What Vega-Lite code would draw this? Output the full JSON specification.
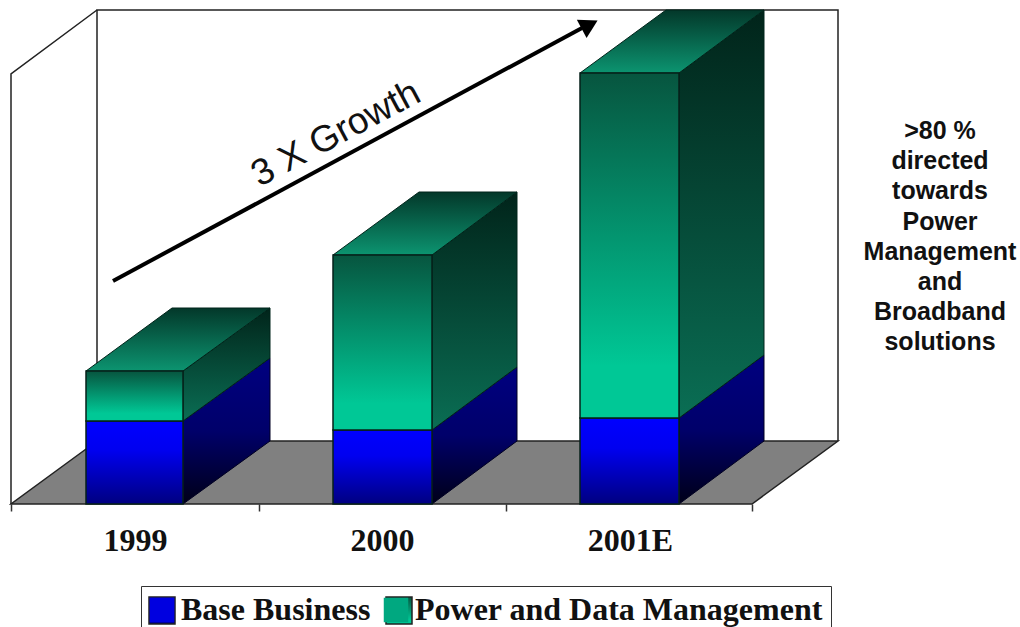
{
"$schema":"https://vega.github.io/schema/vega-lite/v6.json",
"width":1020,"height":504,"autosize":"none","padding":{"left":0,"top":0,"right":0,"bottom":123},
"background":"white",
"datasets":{
"walls":[
{"wall":"back","ord":1,"x":97,"v":63},{"wall":"back","ord":2,"x":97,"v":494},{"wall":"back","ord":3,"x":838,"v":494},{"wall":"back","ord":4,"x":838,"v":63},
{"wall":"left","ord":1,"x":11,"v":0},{"wall":"left","ord":2,"x":11,"v":430},{"wall":"left","ord":3,"x":97,"v":494}],
"floor":[{"v":0,"x":11,"x2":752},{"v":63,"x":97,"x2":838}],
"sides":[
{"year":"1999","series":"Base Business","x":183,"lo":0,"hi":83},{"year":"1999","series":"Base Business","x":270,"lo":63,"hi":146},
{"year":"1999","series":"Power and Data Management","x":183,"lo":83,"hi":133},{"year":"1999","series":"Power and Data Management","x":270,"lo":146,"hi":196},
{"year":"2000","series":"Base Business","x":432,"lo":0,"hi":74},{"year":"2000","series":"Base Business","x":517,"lo":63,"hi":137},
{"year":"2000","series":"Power and Data Management","x":432,"lo":74,"hi":249},{"year":"2000","series":"Power and Data Management","x":517,"lo":137,"hi":312},
{"year":"2001E","series":"Base Business","x":679,"lo":0,"hi":86},{"year":"2001E","series":"Base Business","x":764,"lo":63,"hi":149},
{"year":"2001E","series":"Power and Data Management","x":679,"lo":86,"hi":431},{"year":"2001E","series":"Power and Data Management","x":764,"lo":149,"hi":494}],
"tops":[
{"year":"1999","v":133,"x":86,"x2":183},{"year":"1999","v":196,"x":172,"x2":270},
{"year":"2000","v":249,"x":333,"x2":432},{"year":"2000","v":312,"x":419,"x2":517},
{"year":"2001E","v":431,"x":580,"x2":679},{"year":"2001E","v":494,"x":666,"x2":764}],
"fronts":[
{"year":"1999","series":"Base Business","x":86,"x2":183,"lo":0,"hi":83},
{"year":"1999","series":"Power and Data Management","x":86,"x2":183,"lo":83,"hi":133},
{"year":"2000","series":"Base Business","x":333,"x2":432,"lo":0,"hi":74},
{"year":"2000","series":"Power and Data Management","x":333,"x2":432,"lo":74,"hi":249},
{"year":"2001E","series":"Base Business","x":580,"x2":679,"lo":0,"hi":86},
{"year":"2001E","series":"Power and Data Management","x":580,"x2":679,"lo":86,"hi":431}],
"swatches":[
{"series":"Base Business","x":149,"x2":175,"lo":-120,"hi":-93},
{"series":"Power and Data Management","x":386,"x2":412,"lo":-120,"hi":-93}],
"arrow":[{"x":113,"v":223},{"x":582,"v":476}],
"head":[{"x":587,"v":478}],
"labels":[{"x":336,"v":370,"t":"3 X Growth"}],
"note":[{"x":940,"v":385,"t":">80 %\ndirected\ntowards\nPower\nManagement\nand\nBroadband\nsolutions"}]
},
"layer":[
{"data":{"name":"floor"},
 "mark":{"type":"area","orient":"horizontal","fill":"#808080","stroke":"#222222","strokeWidth":1.5},
 "encoding":{
  "y":{"field":"v","type":"quantitative","stack":null,"scale":{"domain":[0,504],"nice":false},"axis":null},
  "x":{"field":"x","type":"quantitative","scale":{"domain":[0,1020],"nice":false},"title":null,
   "axis":{"values":[11,135,259,382,506,630,752],"grid":false,"domain":false,"title":null,
    "labelExpr":"datum.value==135?'1999':datum.value==382?'2000':datum.value==630?'2001E':''",
    "labelFont":"Liberation Serif","labelFontWeight":"bold","labelFontSize":32,"labelColor":"#111111","labelPadding":21,"labelOverlap":false,"labelFlush":false,
    "tickColor":"#333333","tickWidth":1.5,"tickSize":{"condition":{"test":"datum.value==135||datum.value==382||datum.value==630","value":0},"value":7}}},
  "x2":{"field":"x2"}}},
{"data":{"name":"walls"},
 "mark":{"type":"line","color":"#222222","strokeWidth":1.5},
 "encoding":{
  "x":{"field":"x","type":"quantitative","title":null},
  "y":{"field":"v","type":"quantitative","axis":null},
  "detail":{"field":"wall"},"order":{"field":"ord"}}},
{"data":{"name":"sides"},"transform":[{"filter":"datum.series=='Base Business'"}],
 "mark":{"type":"area","stroke":"#000022","strokeWidth":1,
  "color":{"gradient":"linear","x1":0,"y1":0,"x2":0,"y2":1,"stops":[{"offset":0,"color":"#000080"},{"offset":0.5,"color":"#00006a"},{"offset":1,"color":"#000018"}]}},
 "encoding":{
  "x":{"field":"x","type":"quantitative","title":null},
  "y":{"field":"hi","type":"quantitative","stack":null,"axis":null},
  "y2":{"field":"lo"},"detail":{"field":"year"}}},
{"data":{"name":"sides"},"transform":[{"filter":"datum.series!='Base Business'"}],
 "mark":{"type":"area","stroke":"#00241a","strokeWidth":1,
  "color":{"gradient":"linear","x1":0,"y1":0,"x2":0,"y2":1,"stops":[{"offset":0,"color":"#01241a"},{"offset":1,"color":"#0a6e54"}]}},
 "encoding":{
  "x":{"field":"x","type":"quantitative","title":null},
  "y":{"field":"hi","type":"quantitative","stack":null,"axis":null},
  "y2":{"field":"lo"},"detail":{"field":"year"}}},
{"data":{"name":"tops"},
 "mark":{"type":"area","orient":"horizontal","stroke":"#01241a","strokeWidth":1,
  "color":{"gradient":"linear","x1":0,"y1":0,"x2":0,"y2":1,"stops":[{"offset":0,"color":"#03382a"},{"offset":1,"color":"#0c9470"}]}},
 "encoding":{
  "y":{"field":"v","type":"quantitative","stack":null,"axis":null},
  "x":{"field":"x","type":"quantitative","title":null},
  "x2":{"field":"x2"},"detail":{"field":"year"}}},
{"data":{"name":"fronts"},
 "mark":{"type":"rect"},
 "encoding":{
  "x":{"field":"x","type":"quantitative","title":null},"x2":{"field":"x2"},
  "y":{"field":"lo","type":"quantitative","axis":null},"y2":{"field":"hi"},
  "color":{"field":"series","type":"nominal",
   "scale":{"domain":["Base Business","Power and Data Management"],"range":["#0000e0","#00a880"]},
   "legend":{"title":null,"orient":"none","legendX":141,"legendY":586,"direction":"horizontal","columns":2,
    "symbolType":"square","symbolSize":600,"symbolStrokeWidth":0,"symbolOffset":-3,
    "labelFont":"Liberation Serif","labelFontWeight":"bold","labelFontSize":32,"labelColor":"#111111","labelLimit":500,
    "strokeColor":"#333333","padding":8,"columnPadding":12,"labelOffset":3}}}},
{"data":{"name":"fronts"},"transform":[{"filter":"datum.series=='Base Business'"}],
 "mark":{"type":"rect","stroke":"#06201a","strokeWidth":1.5,
  "color":{"gradient":"linear","x1":0,"y1":0,"x2":0,"y2":1,"stops":[{"offset":0,"color":"#0000ff"},{"offset":0.35,"color":"#0000f0"},{"offset":1,"color":"#000080"}]}},
 "encoding":{
  "x":{"field":"x","type":"quantitative","title":null},"x2":{"field":"x2"},
  "y":{"field":"lo","type":"quantitative","axis":null},"y2":{"field":"hi"}}},
{"data":{"name":"fronts"},"transform":[{"filter":"datum.series!='Base Business'"}],
 "mark":{"type":"rect","stroke":"#06201a","strokeWidth":1.5,
  "color":{"gradient":"linear","x1":0,"y1":0,"x2":0,"y2":1,"stops":[{"offset":0,"color":"#07553f"},{"offset":0.85,"color":"#00c896"},{"offset":1,"color":"#00c896"}]}},
 "encoding":{
  "x":{"field":"x","type":"quantitative","title":null},"x2":{"field":"x2"},
  "y":{"field":"lo","type":"quantitative","axis":null},"y2":{"field":"hi"}}},
{"data":{"name":"swatches"},"transform":[{"filter":"datum.series=='Base Business'"}],
 "mark":{"type":"rect","stroke":"#222222","strokeWidth":1.5,
  "color":{"gradient":"linear","x1":0,"y1":0,"x2":0,"y2":1,"stops":[{"offset":0,"color":"#0000ff"},{"offset":0.35,"color":"#0000f0"},{"offset":1,"color":"#000080"}]}},
 "encoding":{
  "x":{"field":"x","type":"quantitative","title":null},"x2":{"field":"x2"},
  "y":{"field":"lo","type":"quantitative","axis":null},"y2":{"field":"hi"}}},
{"data":{"name":"swatches"},"transform":[{"filter":"datum.series!='Base Business'"}],
 "mark":{"type":"rect","stroke":"#222222","strokeWidth":1.5,
  "color":{"gradient":"linear","x1":0,"y1":0,"x2":0,"y2":1,"stops":[{"offset":0,"color":"#07553f"},{"offset":0.85,"color":"#00c896"},{"offset":1,"color":"#00c896"}]}},
 "encoding":{
  "x":{"field":"x","type":"quantitative","title":null},"x2":{"field":"x2"},
  "y":{"field":"lo","type":"quantitative","axis":null},"y2":{"field":"hi"}}},
{"data":{"name":"arrow"},
 "mark":{"type":"line","color":"#000000","strokeWidth":4},
 "encoding":{"x":{"field":"x","type":"quantitative","title":null},"y":{"field":"v","type":"quantitative","axis":null}}},
{"data":{"name":"head"},
 "mark":{"type":"point","shape":"triangle","filled":true,"color":"#000000","size":430,"opacity":1,"angle":62},
 "encoding":{"x":{"field":"x","type":"quantitative","title":null},"y":{"field":"v","type":"quantitative","axis":null}}},
{"data":{"name":"labels"},
 "mark":{"type":"text","font":"Liberation Sans","fontSize":37,"angle":332,"color":"#111111","align":"center","baseline":"middle"},
 "encoding":{"x":{"field":"x","type":"quantitative","title":null},"y":{"field":"v","type":"quantitative","axis":null},"text":{"field":"t"}}},
{"data":{"name":"note"},
 "mark":{"type":"text","font":"Liberation Sans","fontWeight":"bold","fontSize":25,"lineHeight":30.2,"lineBreak":"\n","color":"#111111","align":"center","baseline":"top"},
 "encoding":{"x":{"field":"x","type":"quantitative","title":null},"y":{"field":"v","type":"quantitative","axis":null},"text":{"field":"t"}}}
],
"config":{"view":{"stroke":null}}
}
